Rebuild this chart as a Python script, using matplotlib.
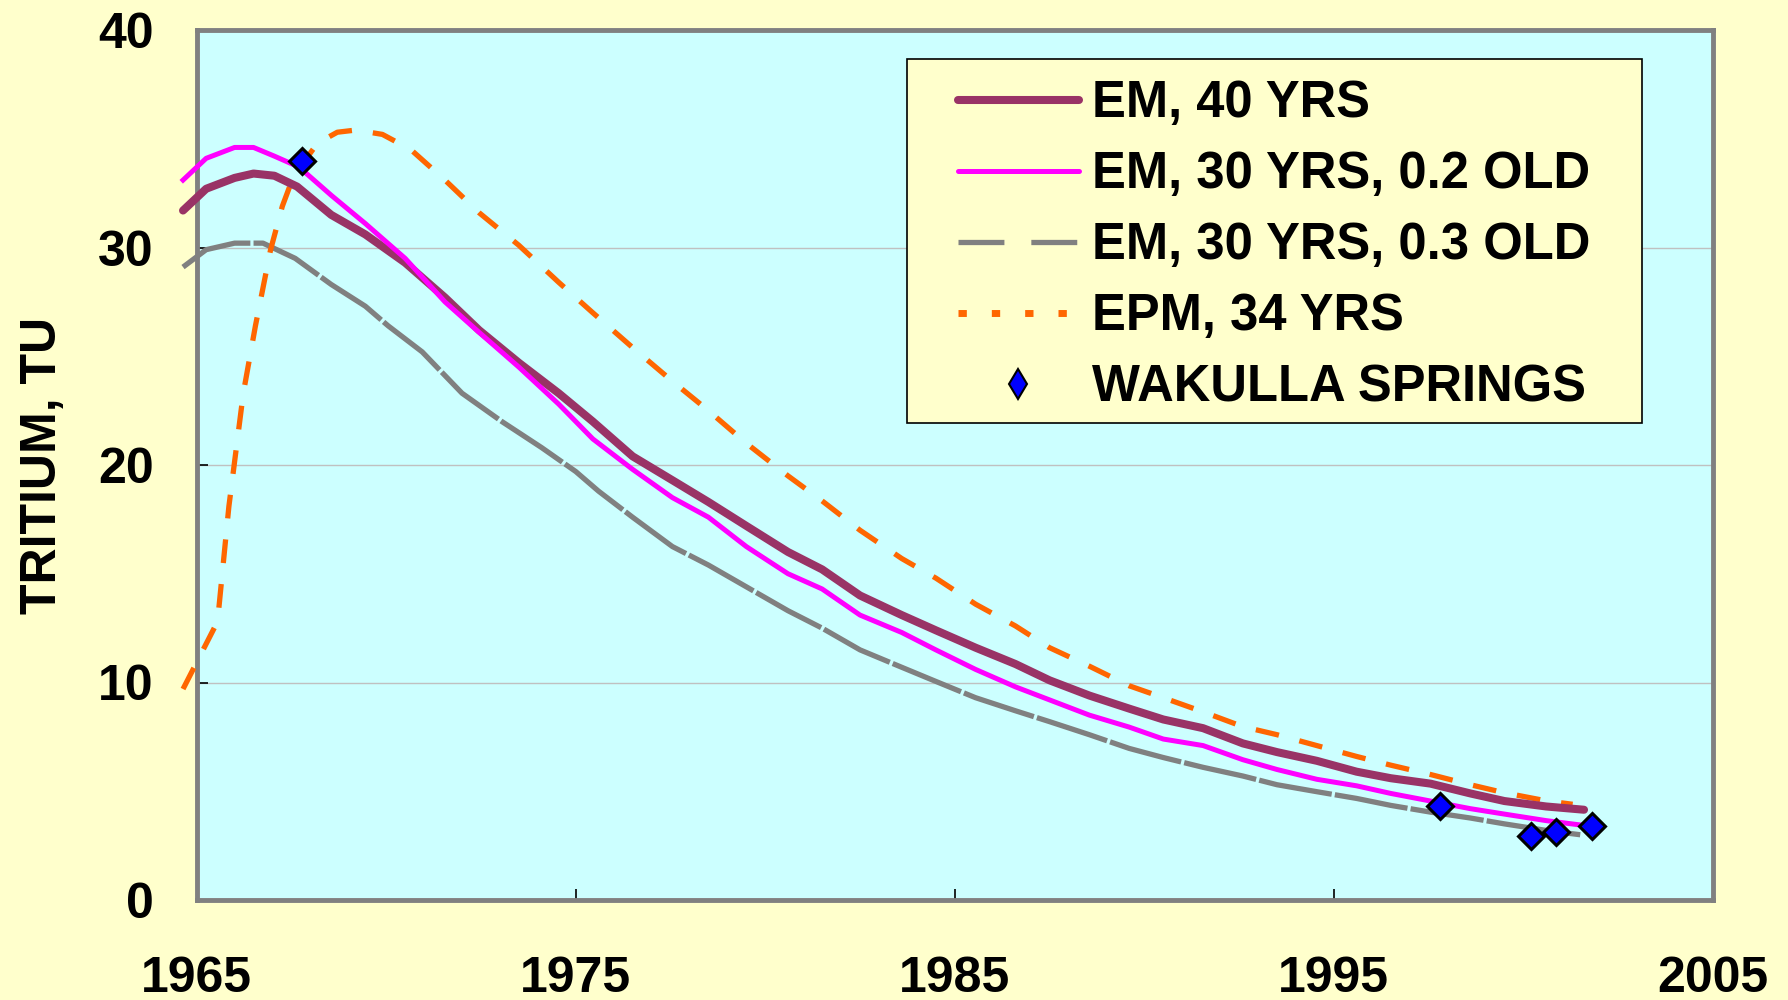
import matplotlib
matplotlib.use("Agg")
import matplotlib.pyplot as plt
from matplotlib.lines import Line2D
from matplotlib.patches import Rectangle
from matplotlib.transforms import IdentityTransform

# years / values
em40_year = [1964.64, 1965.25, 1966.0, 1966.5, 1967.05, 1967.65, 1968.55, 1969.45, 1970.5, 1971.55,
             1972.45, 1973.5, 1974.55, 1975.45, 1976.5, 1977.55, 1978.5, 1979.5, 1980.6, 1981.5,
             1982.5, 1983.6, 1984.5, 1985.55, 1986.6, 1987.5, 1988.55, 1989.6, 1990.5, 1991.55,
             1992.6, 1993.5, 1994.55, 1995.6, 1996.5, 1997.55, 1998.6, 1999.5, 2000.6, 2001.6]
em40_tu = [31.7, 32.7, 33.2, 33.4, 33.3, 32.8, 31.5, 30.6, 29.3, 27.7,
           26.2, 24.7, 23.3, 22.0, 20.4, 19.3, 18.3, 17.2, 16.0, 15.2,
           14.0, 13.1, 12.4, 11.6, 10.85, 10.1, 9.4, 8.8, 8.3, 7.9,
           7.2, 6.8, 6.4, 5.9, 5.6, 5.35, 4.9, 4.55, 4.3, 4.15]

em30a_year = [1964.64, 1965.25, 1966.0, 1966.5, 1967.05, 1967.7, 1968.55, 1969.45, 1970.5, 1971.55,
              1972.45, 1973.5, 1974.55, 1975.45, 1976.5, 1977.55, 1978.5, 1979.5, 1980.6, 1981.5,
              1982.5, 1983.6, 1984.5, 1985.55, 1986.6, 1987.5, 1988.55, 1989.6, 1990.5, 1991.55,
              1992.6, 1993.5, 1994.55, 1995.6, 1996.5, 1997.55, 1998.6, 1999.5, 2000.6, 2001.5]
em30a_tu = [33.1, 34.1, 34.6, 34.6, 34.2, 33.7, 32.4, 31.1, 29.5, 27.5,
            26.1, 24.5, 22.8, 21.2, 19.8, 18.5, 17.6, 16.25, 15.0, 14.3,
            13.1, 12.3, 11.5, 10.6, 9.8, 9.2, 8.5, 7.95, 7.4, 7.1,
            6.45, 6.0, 5.55, 5.25, 4.9, 4.55, 4.2, 3.95, 3.65, 3.45]

em30b_year = [1964.64, 1965.25, 1966.0, 1966.75, 1967.6, 1968.55, 1969.45, 1970.05, 1970.95, 1972.0,
              1973.05, 1974.1, 1975.0, 1975.6, 1976.5, 1977.55, 1978.5, 1979.5, 1980.6, 1981.5,
              1982.5, 1983.6, 1984.5, 1985.55, 1986.6, 1987.5, 1988.55, 1989.6, 1990.5, 1991.55,
              1992.6, 1993.5, 1994.55, 1995.6, 1996.5, 1997.55, 1998.6, 1999.5, 2000.6, 2001.5]
em30b_tu = [29.1, 29.9, 30.2, 30.2, 29.5, 28.3, 27.3, 26.4, 25.2, 23.3,
            22.0, 20.8, 19.7, 18.8, 17.6, 16.25, 15.4, 14.4, 13.3, 12.5,
            11.5, 10.7, 10.05, 9.3, 8.7, 8.2, 7.6, 6.97, 6.55, 6.1,
            5.7, 5.3, 4.98, 4.67, 4.35, 4.04, 3.77, 3.5, 3.2, 3.0]

epm_year = [1964.64, 1965.55, 1965.85, 1966.23, 1966.55, 1966.95, 1967.26, 1967.56, 1968.19, 1968.71,
            1969.2, 1969.9, 1970.65, 1971.55, 1972.45, 1973.5, 1974.55, 1975.45, 1976.5, 1977.55,
            1978.5, 1979.5, 1980.6, 1981.5, 1982.5, 1983.6, 1984.5, 1985.55, 1986.6, 1987.5,
            1988.55, 1989.6, 1990.5, 1991.55, 1992.6, 1993.5, 1994.55, 1995.6, 1996.5, 1997.55,
            1998.6, 1999.5, 2000.6, 2001.3]
epm_tu = [9.7, 12.8, 18.1, 23.3, 26.4, 29.9, 31.9, 33.3, 34.8, 35.3,
          35.4, 35.2, 34.5, 33.1, 31.6, 30.1, 28.4, 27.0, 25.4, 23.85,
          22.5, 21.0, 19.5, 18.35, 17.0, 15.7, 14.8, 13.6, 12.6, 11.6,
          10.75, 9.85, 9.3, 8.65, 7.97, 7.6, 7.1, 6.6, 6.2, 5.77,
          5.3, 4.93, 4.56, 4.4]

wakulla_year = [1967.77, 1997.8, 2000.2, 2000.85, 2001.8]
wakulla_tu = [34.0, 4.3, 2.96, 3.12, 3.38]

labels = ["EM, 40 YRS", "EM, 30 YRS, 0.2 OLD", "EM, 30 YRS, 0.3 OLD", "EPM, 34 YRS", "WAKULLA SPRINGS"]

arial = ["Liberation Sans", "DejaVu Sans"]

fig = plt.figure(figsize=(17.88, 10), dpi=100, facecolor="#FFFFCC")
ax = fig.add_axes([0.110, 0.100, 0.848, 0.870], facecolor="#CCFFFF")

ax.plot(em40_year, em40_tu, color="#993366", lw=5.8, solid_capstyle="round", clip_on=False, zorder=4)
ax.plot(em30a_year, em30a_tu, color="#FF00FF", lw=3.6, clip_on=False, zorder=5)
ax.plot(em30b_year, em30b_tu, color="#808080", lw=3.8, dashes=(14, 0.6), clip_on=False, zorder=3)
ax.plot(epm_year, epm_tu, color="#FF6600", lw=3.8, dashes=(4.5, 4), clip_on=False, zorder=3)
ax.plot(wakulla_year, wakulla_tu, ls="none", marker="D", ms=13.5, mfc="#0000FF", mec="black",
        mew=2.2, clip_on=False, zorder=6)

ax.set_xlim(1965, 2005)
ax.set_ylim(0, 40)
ax.set_xticks([1965, 1975, 1985, 1995, 2005])
ax.set_yticks([0, 10, 20, 30, 40])
ax.yaxis.grid(True, color="#C0C0C0", lw=1)
ax.set_axisbelow(True)

for s in ax.spines.values():
    s.set_color("#808080")
    s.set_linewidth(3.5)

ax.tick_params(axis="both", direction="in", length=8, width=1.2, color="black")
ax.tick_params(axis="y", pad=31)
ax.tick_params(axis="x", pad=40)
for t in ax.get_xticklabels() + ax.get_yticklabels():
    t.set_fontfamily(arial)
    t.set_fontweight("bold")
    t.set_fontsize(36)

ax.set_ylabel("TRITIUM, TU", fontsize=36, fontweight="bold", family=arial)
ax.yaxis.set_label_coords(-0.086, 0.5)

handles = [
    Line2D([], [], color="#993366", lw=5.8, solid_capstyle="round"),
    Line2D([], [], color="#FF00FF", lw=3.6, solid_capstyle="round"),
    Line2D([], [], color="#808080", lw=3.8, dashes=(8.7, 5.1)),
    Line2D([], [], color="#FF6600", lw=5, dashes=(1.2, 3.6)),
    Line2D([], [], ls="none", marker="d", ms=15, mfc="#0000FF", mec="black", mew=1.5),
]
leg = ax.legend(handles, labels, loc="upper right", bbox_to_anchor=(0.926, 0.955), borderaxespad=0,
                prop={"family": arial, "weight": "bold", "size": 36.5}, frameon=False,
                handlelength=2.37, handletextpad=0.27, labelspacing=0.435, borderpad=0.2)
leg.set_zorder(10)

# legend box is wider than its padding: draw the frame around it by hand
fig.canvas.draw()
bb = leg.get_window_extent(fig.canvas.get_renderer())
padx, padtop = 41, 10
box = Rectangle((bb.x0 - padx, bb.y0), bb.width + 2 * padx, bb.height + padtop,
                transform=IdentityTransform(), facecolor="#FFFFCC", edgecolor="black", lw=1.2,
                zorder=9, clip_on=False)
ax.add_artist(box)

fig.savefig("out.png", dpi=100, facecolor=fig.get_facecolor())
